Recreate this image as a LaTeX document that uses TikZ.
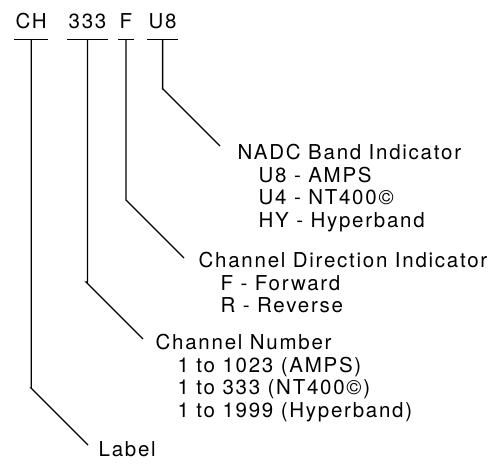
\documentclass[tikz,border=0pt]{standalone}
\usepackage{fontspec}
\setmainfont{TeX Gyre Heros}[LetterSpace=8.5]

\begin{document}
\begin{tikzpicture}[x=1pt,y=-1pt,line width=1.3pt,every node/.style={font=\fontsize{20.5}{22.5}\selectfont},
  code/.style={anchor=base west,inner xsep=1pt,inner ysep=0pt,text depth=11pt},
  desc/.style={anchor=north west,align=left,inner sep=0pt}]
\useasboundingbox (0,0) rectangle (494,466);
\node[code] (chCode) at (14,28){CH}; \node[code] (numCode) at (67,28){333};
\node[code] (dirCode) at (118,28){F}; \node[code] (bandCode) at (147,28){U8};
\foreach \c in {chCode,numCode,dirCode,bandCode} \draw (\c.south west)--(\c.south east);
\node[desc] (bandText) at (237,144){NADC Band Indicator\\\hspace*{21pt}U8 - AMPS\\\hspace*{21pt}U4 - NT400©\\\hspace*{21pt}HY - Hyperband};
\node[desc] (dirText) at (198,252){Channel Direction Indicator\\\hspace*{22pt}F - Forward\\\hspace*{22pt}R - Reverse};
\node[desc] (numText) at (155,334){Channel Number\\\hspace*{22pt}1 to 1023 (AMPS)\\\hspace*{22pt}1 to 333 (NT400©)\\\hspace*{22pt}1 to 1999 (Hyperband)};
\node[desc] (lblText) at (98,441){Label};
\coordinate (bandEnd) at (220,146); \coordinate (dirEnd) at (184,258);
\coordinate (numEnd) at (143,339); \coordinate (lblEnd) at (88,445);
\draw (bandCode.south) |- ([shift={(-57,-57)}]bandEnd) -- (bandEnd);
\draw (dirCode.south) |- ([shift={(-58,-58)}]dirEnd) -- (dirEnd);
\draw (numCode.south) |- ([shift={(-57,-57)}]numEnd) -- (numEnd);
\draw (chCode.south) |- ([shift={(-57,-57)}]lblEnd) -- (lblEnd);
\end{tikzpicture}
\end{document}
